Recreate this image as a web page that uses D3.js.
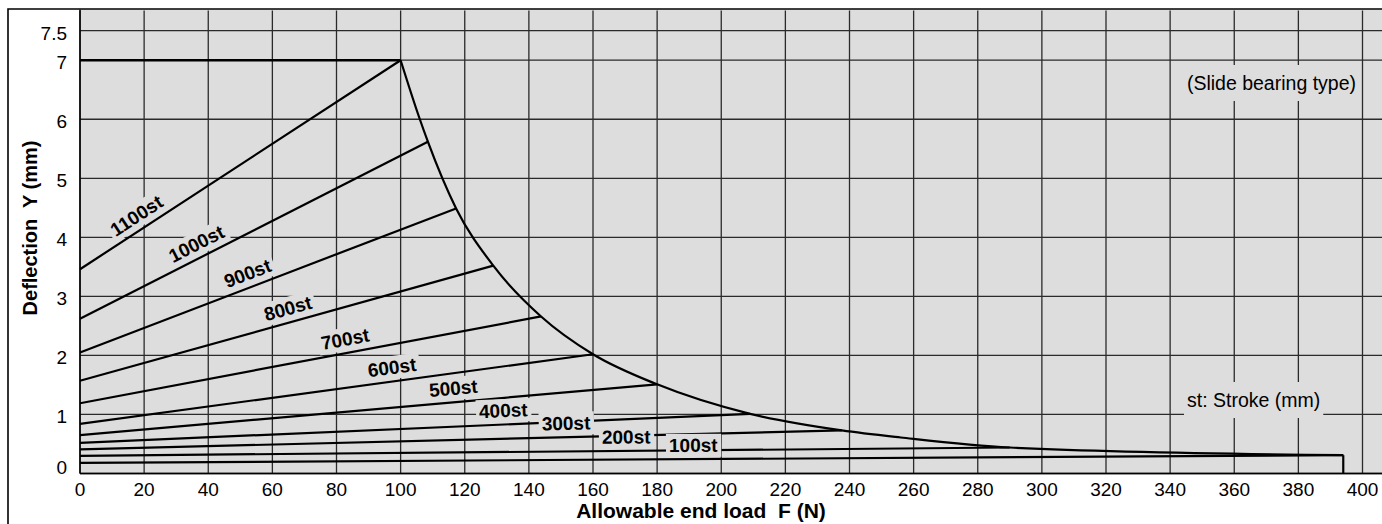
<!DOCTYPE html>
<html>
<head>
<meta charset="utf-8">
<script src="https://cdnjs.cloudflare.com/ajax/libs/d3/7.8.5/d3.min.js"></script>
<style>
body { margin: 0; background: #fff; }
svg { display: block; font-family: "Liberation Sans", Arial, Helvetica, sans-serif; }
</style>
</head>
<body>
<script>
// stroke lines: deflection at F=0 and where each one meets the limit curve
var strokes = ["1100st", "1000st", "900st", "800st", "700st", "600st", "500st", "400st", "300st", "200st", "100st"];
var startY  = [3.46, 2.62, 2.05, 1.57, 1.19, 0.84, 0.65, 0.52, 0.41, 0.30, 0.18];
var endF    = [100, 108.5, 117.3, 128.9, 143.8, 160, 180, 209, 237.6, 290, 394];
var endY    = [7.0, 5.62, 4.49, 3.52, 2.66, 2.02, 1.51, 1.01, 0.73, 0.44, 0.31];
// where the label sits along its line (N)
var labelF  = [20, 38.3, 53.8, 66, 83.5, 97.9, 116.8, 132.2, 151.7, 170.4, 191.3];

// limit curve
var limitF = [100, 105.8, 108.5, 117.3, 128.9, 143.8, 160, 180, 209, 237.6, 256, 290, 394];
var limitY = [7.0, 6.03, 5.62, 4.49, 3.52, 2.66, 2.02, 1.51, 1.01, 0.73, 0.61, 0.44, 0.31];
var maxDeflection = 7;

var xTicks = d3.range(0, 401, 20);
var yTicks = [0, 1, 2, 3, 4, 5, 6, 7, 7.5];

var w = 1382, h = 524;
var plotLeft = 80, plotTop = 9.5, plotBottom = 473.5;

var x = d3.scaleLinear().domain([0, 400]).range([plotLeft, 1362.5]);
var y = d3.scaleLinear().domain([0, 7.5]).range([plotBottom, 30.7]);

var svg = d3.select("body").append("svg").attr("width", w).attr("height", h);
svg.append("rect").attr("width", w).attr("height", h).attr("fill", "#fff");

// plot background
svg.append("rect").attr("x", plotLeft).attr("y", plotTop)
  .attr("width", w - plotLeft).attr("height", plotBottom - plotTop).attr("fill", "#dddddd");

// grid
svg.selectAll("line.vg").data(xTicks).enter().append("line")
  .attr("class", "vg")
  .attr("x1", function(d) { return x(d); }).attr("x2", function(d) { return x(d); })
  .attr("y1", plotTop + 1).attr("y2", plotBottom)
  .attr("stroke", "#2a2a2a").attr("stroke-width", 1.3);

svg.selectAll("line.hg").data(yTicks).enter().append("line")
  .attr("class", "hg")
  .attr("x1", plotLeft).attr("x2", w)
  .attr("y1", function(d) { return y(d); }).attr("y2", function(d) { return y(d); })
  .attr("stroke", "#2a2a2a").attr("stroke-width", 1.3);

// plot left / bottom border
svg.append("line").attr("x1", plotLeft).attr("x2", plotLeft).attr("y1", plotTop).attr("y2", plotBottom)
  .attr("stroke", "#000").attr("stroke-width", 1.5);
svg.append("line").attr("x1", plotLeft).attr("x2", w).attr("y1", plotBottom).attr("y2", plotBottom)
  .attr("stroke", "#000").attr("stroke-width", 1.5);

// stroke lines
svg.selectAll("line.st").data(strokes).enter().append("line")
  .attr("class", "st")
  .attr("x1", x(0))
  .attr("y1", function(d, i) { return y(startY[i]); })
  .attr("x2", function(d, i) { return x(endF[i]); })
  .attr("y2", function(d, i) { return y(endY[i]); })
  .attr("stroke", "#000").attr("stroke-width", 2.2);

// limit: flat top, curve, drop at the end
var last = limitF.length - 1;
svg.append("path")
  .attr("d", d3.line()([[x(0), y(maxDeflection)], [x(limitF[0]), y(maxDeflection)]]))
  .attr("fill", "none").attr("stroke", "#000").attr("stroke-width", 2.6);

svg.append("path")
  .datum(limitF)
  .attr("d", d3.line()
    .x(function(d) { return x(d); })
    .y(function(d, i) { return y(limitY[i]); })
    .curve(d3.curveMonotoneX))
  .attr("fill", "none").attr("stroke", "#000").attr("stroke-width", 2.2);

svg.append("path")
  .attr("d", d3.line()([[x(limitF[last]), y(limitY[last])], [x(limitF[last]), y(0)]]))
  .attr("fill", "none").attr("stroke", "#000").attr("stroke-width", 2.2);

// stroke labels, sitting just above their line
var lbl = svg.selectAll("g.lbl").data(strokes).enter().append("g")
  .attr("class", "lbl")
  .attr("transform", function(d, i) {
    var x0 = x(0), y0 = y(startY[i]), x1 = x(endF[i]), y1 = y(endY[i]);
    var a = Math.atan2(y1 - y0, x1 - x0);
    var t = labelF[i] / endF[i];
    var px = x0 + (x1 - x0) * t + 14 * Math.sin(a);
    var py = y0 + (y1 - y0) * t - 14 * Math.cos(a);
    return "translate(" + px + "," + py + ") rotate(" + (a * 180 / Math.PI) + ")";
  });

lbl.append("text")
  .text(function(d) { return d; })
  .attr("text-anchor", "middle").attr("dy", "0.35em")
  .attr("font-size", 19).attr("font-weight", "bold").attr("fill", "#000");

lbl.each(function() {
  var g = d3.select(this);
  var b = g.select("text").node().getBBox();
  g.insert("rect", "text")
    .attr("x", b.x - 3).attr("y", b.y - 1)
    .attr("width", b.width + 6).attr("height", b.height + 2)
    .attr("fill", "#dddddd");
});

// notes
function note(txt, tx, ty, anchor) {
  var g = svg.append("g");
  var t = g.append("text").text(txt)
    .attr("x", tx).attr("y", ty).attr("text-anchor", anchor)
    .attr("font-size", 19.5).attr("fill", "#000");
  var b = t.node().getBBox();
  g.insert("rect", "text")
    .attr("x", b.x - 3).attr("y", b.y - 7)
    .attr("width", b.width + 6).attr("height", b.height + 14)
    .attr("fill", "#dddddd");
}
note("(Slide bearing type)", 1356, 90, "end");
note("st: Stroke (mm)", 1187, 407, "start");

// tick labels
svg.selectAll("text.xt").data(xTicks).enter().append("text")
  .attr("class", "xt")
  .text(function(d) { return d; })
  .attr("x", function(d) { return x(d); })
  .attr("y", 496)
  .attr("text-anchor", "middle").attr("font-size", 19).attr("fill", "#000");

svg.selectAll("text.yt").data(yTicks).enter().append("text")
  .attr("class", "yt")
  .text(function(d) { return d; })
  .attr("x", 67)
  .attr("y", function(d) { return d === 0 ? y(d) : y(d) + 9; })
  .attr("text-anchor", "end").attr("font-size", 19).attr("fill", "#000");

// axis titles
svg.append("text").text("Allowable end load  F (N)")
  .attr("x", 701).attr("y", 518).attr("text-anchor", "middle")
  .attr("font-size", 21).attr("font-weight", "bold")
  .style("white-space", "pre");

svg.append("text").text("Deflection  Y (mm)")
  .attr("transform", "translate(37,228) rotate(-90)")
  .attr("text-anchor", "middle")
  .attr("font-size", 20).attr("font-weight", "bold")
  .style("white-space", "pre");

// outer frame
svg.append("path")
  .attr("d", d3.line()([[8, h], [8, 9], [w, 9]]))
  .attr("fill", "none").attr("stroke", "#000").attr("stroke-width", 1.6);
</script>
</body>
</html>
